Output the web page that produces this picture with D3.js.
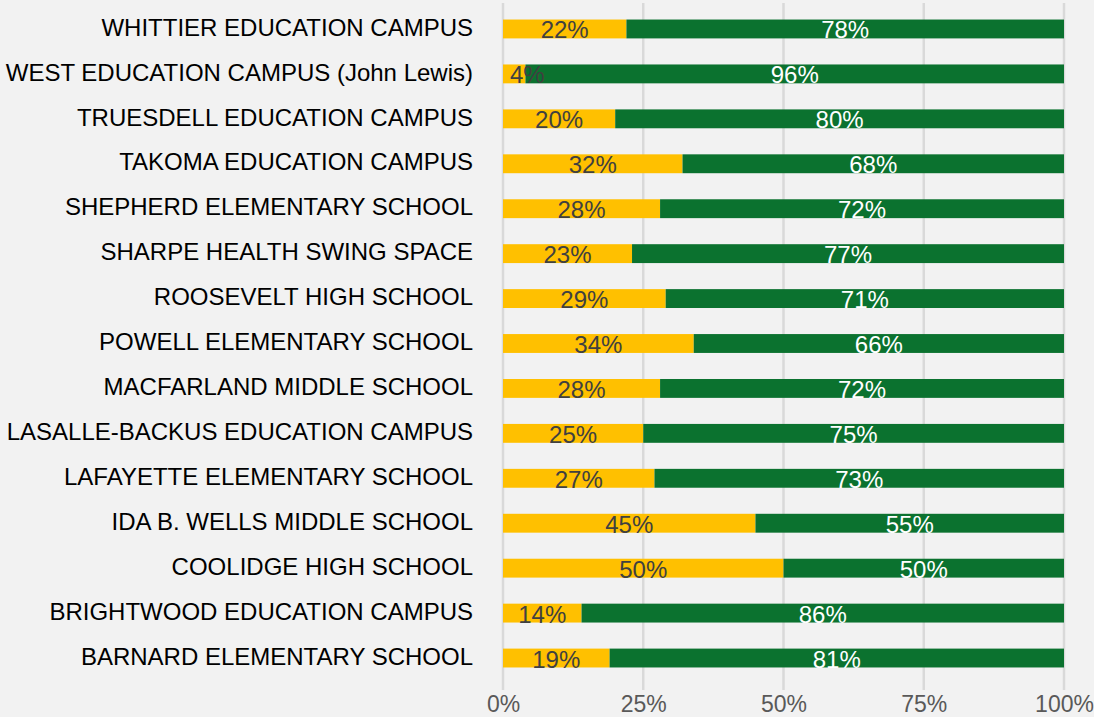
<!DOCTYPE html>
<html>
<head>
<meta charset="utf-8">
<script src="https://cdn.jsdelivr.net/npm/d3@7"></script>
<style>
  body { margin: 0; background: #f2f2f2; }
  svg { display: block; font-family: "Liberation Sans", Arial, Helvetica, sans-serif; }
</style>
</head>
<body>
<div id="chart"></div>
<script>
// Data (top to bottom)
var schools = [
  "WHITTIER EDUCATION CAMPUS",
  "WEST EDUCATION CAMPUS (John Lewis)",
  "TRUESDELL EDUCATION CAMPUS",
  "TAKOMA EDUCATION CAMPUS",
  "SHEPHERD ELEMENTARY SCHOOL",
  "SHARPE HEALTH SWING SPACE",
  "ROOSEVELT HIGH SCHOOL",
  "POWELL ELEMENTARY SCHOOL",
  "MACFARLAND MIDDLE SCHOOL",
  "LASALLE-BACKUS EDUCATION CAMPUS",
  "LAFAYETTE ELEMENTARY SCHOOL",
  "IDA B. WELLS MIDDLE SCHOOL",
  "COOLIDGE HIGH SCHOOL",
  "BRIGHTWOOD EDUCATION CAMPUS",
  "BARNARD ELEMENTARY SCHOOL"
];
var yellowPct = [22, 4, 20, 32, 28, 23, 29, 34, 28, 25, 27, 45, 50, 14, 19];
var greenPct  = [78, 96, 80, 68, 72, 77, 71, 66, 72, 75, 73, 55, 50, 86, 81];
var tickValues = [0, 25, 50, 75, 100];

var svgWidth = 1094;
var svgHeight = 717;

var svg = d3.select("#chart")
  .append("svg")
  .attr("width", svgWidth)
  .attr("height", svgHeight);

svg.append("rect")
  .attr("width", svgWidth)
  .attr("height", svgHeight)
  .attr("fill", "#f2f2f2");

// Scales
var xScale = d3.scaleLinear().domain([0, 100]).range([503, 1064]);
var yScale = d3.scaleBand()
  .domain(schools)
  .range([6.5, 680.5])
  .paddingInner(0.58)
  .paddingOuter(0.29);

// Gridlines
svg.append("g")
  .selectAll("line")
  .data(tickValues)
  .enter()
  .append("line")
    .attr("x1", d => xScale(d))
    .attr("x2", d => xScale(d))
    .attr("y1", 3)
    .attr("y2", 690)
    .attr("stroke", "#d9d9d9")
    .attr("stroke-width", 2.5);

// Bottom axis (labels only)
var bottomAxis = d3.axisBottom(xScale)
  .tickValues(tickValues)
  .tickSize(0)
  .tickPadding(0)
  .tickFormat(d => d + "%");

var xAxisG = svg.append("g")
  .attr("transform", "translate(0, 695)")
  .call(bottomAxis);
xAxisG.select(".domain").remove();
xAxisG.selectAll("text")
  .attr("dy", "0.75em")
  .attr("fill", "#595959")
  .style("font-size", "23px")
  .style("font-family", "'Liberation Sans', Arial, Helvetica, sans-serif");

// Left axis (category labels)
var leftAxis = d3.axisLeft(yScale).tickSize(0).tickPadding(0);
var yAxisG = svg.append("g")
  .attr("transform", "translate(473, 0)")
  .call(leftAxis);
yAxisG.select(".domain").remove();
yAxisG.selectAll("text")
  .attr("dy", "0.3em")
  .attr("y", -0.5)
  .attr("fill", "#000000")
  .style("font-size", "24px")
  .style("font-family", "'Liberation Sans', Arial, Helvetica, sans-serif");

// Rows
var rows = schools.map(function(s, i) {
  return { school: s, yellow: yellowPct[i], green: greenPct[i] };
});

var rowG = svg.append("g")
  .selectAll("g")
  .data(rows)
  .enter()
  .append("g")
  .attr("transform", d => `translate(0, ${yScale(d.school)})`);

var bh = yScale.bandwidth();

rowG.append("rect")
  .attr("x", xScale(0))
  .attr("y", 0)
  .attr("width", d => xScale(d.yellow) - xScale(0))
  .attr("height", bh)
  .attr("fill", "#ffc000");

rowG.append("rect")
  .attr("x", d => xScale(d.yellow))
  .attr("y", 0)
  .attr("width", d => xScale(d.yellow + d.green) - xScale(d.yellow))
  .attr("height", bh)
  .attr("fill", "#0b722f");

// Value labels
rowG.append("text")
  .attr("x", function(d) {
    var w = xScale(d.yellow) - xScale(0);
    return w < 40 ? xScale(0) + 7 : xScale(d.yellow / 2);
  })
  .attr("text-anchor", d => (xScale(d.yellow) - xScale(0)) < 40 ? "start" : "middle")
  .attr("y", bh / 2 + 9.5)
  .attr("fill", "#404040")
  .style("font-size", "24px")
  .text(d => d.yellow + "%");

rowG.append("text")
  .attr("x", d => xScale(d.yellow + d.green / 2))
  .attr("text-anchor", "middle")
  .attr("y", bh / 2 + 9.5)
  .attr("fill", "#ffffff")
  .style("font-size", "24px")
  .text(d => d.green + "%");
</script>
</body>
</html>
